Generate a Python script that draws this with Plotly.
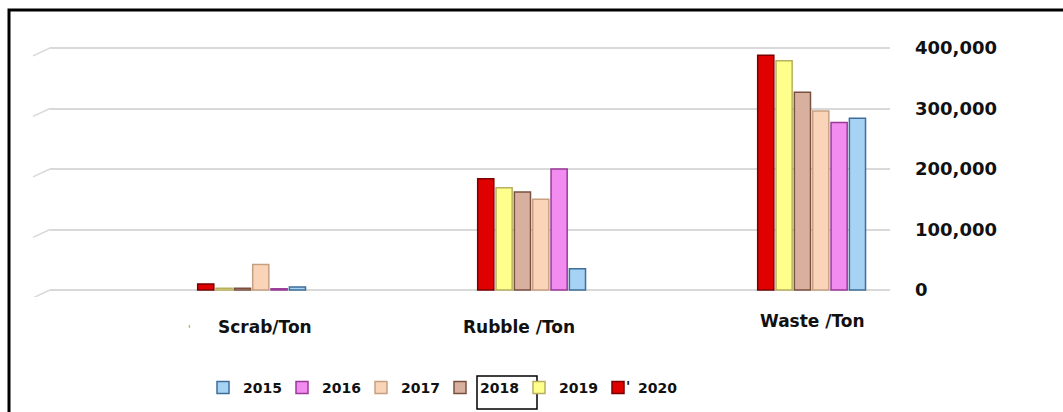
import plotly.graph_objects as go

categories = ["Scrab/Ton", "Rubble /Ton", "Waste /Ton"]
years = ["2020", "2019", "2018", "2017", "2016", "2015"]
values = {
    "2020": [10000, 184000, 388000],
    "2019": [3000, 169000, 379000],
    "2018": [3000, 162000, 327000],
    "2017": [42000, 150000, 296000],
    "2016": [2000, 200000, 277000],
    "2015": [5000, 35000, 284000],
}
fill_colors = {
    "2020": "#E00000", "2019": "#FFFF8C", "2018": "#D8B0A0",
    "2017": "#FAD4B8", "2016": "#F28CF0", "2015": "#A6D2F4",
}
line_colors = {
    "2020": "#7A0000", "2019": "#B8B060", "2018": "#7A5040",
    "2017": "#C8A080", "2016": "#9A3A96", "2015": "#3F6E98",
}
tick_vals = [0, 100000, 200000, 300000, 400000]
tick_text = ["0", "100,000", "200,000", "300,000", "400,000"]
label_shift = [13, -13, 1]
label_py = [327, 327, 321]

W, H = 1063, 412
ML, MR, MT, MB = 50, 173, 30, 115
PW, PH = W - ML - MR, H - MT - MB


def px(x):
    return (x - ML) / PW


def py(y):
    return (H - MB - y) / PH


fig = go.Figure()
for yr in years:
    fig.add_trace(go.Bar(
        name=yr, x=categories, y=values[yr],
        marker=dict(color=fill_colors[yr], line=dict(color=line_colors[yr], width=1.5)),
    ))

shapes = []
# outer frame
shapes.append(dict(type="rect", xref="paper", yref="paper",
                   x0=px(9), x1=px(1080), y0=py(430), y1=py(10),
                   line=dict(color="black", width=3), fillcolor="rgba(0,0,0,0)", layer="above"))
# slanted 3D stubs at the left of gridlines
for v in tick_vals:
    shapes.append(dict(type="line", xref="paper", yref="y",
                       x0=px(33), x1=px(50), y0=v - 13000, y1=v,
                       line=dict(color="#D9D9D9", width=1.5), layer="below"))
# box around 2018 legend text
shapes.append(dict(type="rect", xref="paper", yref="paper",
                   x0=px(477), x1=px(537), y0=py(409), y1=py(376),
                   line=dict(color="black", width=1.5), fillcolor="rgba(0,0,0,0)"))

annotations = []
for c, s, yy in zip(categories, label_shift, label_py):
    annotations.append(dict(x=c, xref="x", xshift=s, y=py(yy), yref="paper", yanchor="middle",
                            text=c, showarrow=False,
                            font=dict(family="DejaVu Sans", size=17, color="#111111", weight="bold")))
annotations.append(dict(x=px(632), y=py(386), xref="paper", yref="paper", yanchor="middle",
                        text="'", showarrow=False,
                        font=dict(family="DejaVu Sans", size=14, color="#111111", weight="bold")))
annotations.append(dict(x=px(186), y=py(329), xref="paper", yref="paper", yanchor="middle",
                        text="'", showarrow=False,
                        font=dict(family="DejaVu Sans", size=10, color="#888888")))

fig.update_layout(
    width=W, height=H,
    margin=dict(l=ML, r=MR, t=MT, b=MB),
    paper_bgcolor="white", plot_bgcolor="white",
    barmode="group", bargap=0.607, bargroupgap=0.12,
    showlegend=True,
    legend=dict(orientation="h", traceorder="reversed",
                x=px(203), xanchor="left", y=(H - 388) / H, yref="container", yanchor="middle",
                entrywidth=34, entrywidthmode="pixels",
                font=dict(family="DejaVu Sans", size=14, color="#111111", weight="bold"),
                bgcolor="rgba(0,0,0,0)"),
    xaxis=dict(range=[-0.72, 2.28], showticklabels=False, showgrid=False,
               zeroline=False, showline=False, fixedrange=True),
    yaxis=dict(side="right", range=[-11570, 429752], tickvals=tick_vals, ticktext=tick_text,
               showgrid=True, gridcolor="#D9D9D9", gridwidth=1.5, zeroline=False,
               showline=False, ticks="", ticklabelstandoff=24,
               tickfont=dict(family="DejaVu Sans", size=18, color="#111111", weight="bold")),
    shapes=shapes, annotations=annotations,
)

fig.write_html("out.html")
